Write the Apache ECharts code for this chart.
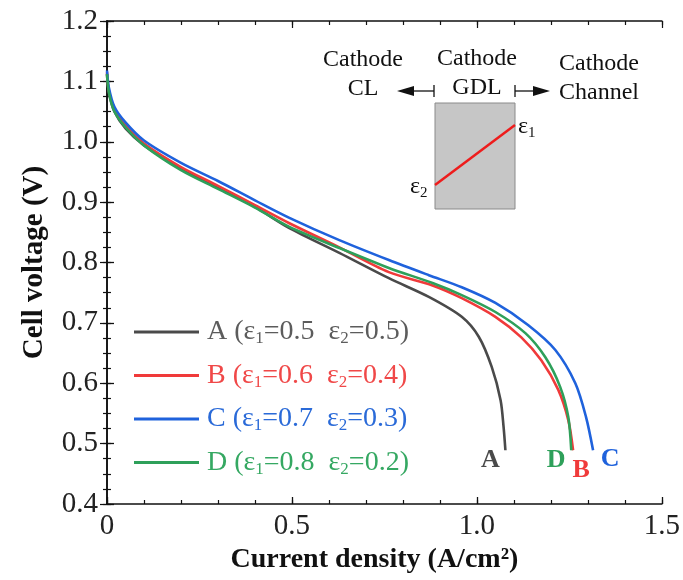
<!DOCTYPE html>
<html>
<head>
<meta charset="utf-8">
<script src="https://cdn.jsdelivr.net/npm/echarts@6/dist/echarts.min.js"></script>
<style>
  html, body { margin: 0; padding: 0; background: #fff; }
  #chart { width: 683px; height: 580px; }
</style>
</head>
<body>
<div id="chart"></div>
<script>
// current density (A/cm2) and cell voltage (V)
const jA = [0, 0.005, 0.02, 0.05, 0.1, 0.2, 0.3, 0.4, 0.493, 0.628, 0.762, 0.87, 0.959, 1.005, 1.04, 1.064, 1.072, 1.077]
const vA = [1.112, 1.082, 1.05, 1.022, 0.994, 0.956, 0.924, 0.892, 0.857, 0.816, 0.774, 0.743, 0.71, 0.677, 0.627, 0.572, 0.528, 0.489]

const jB = [0, 0.005, 0.02, 0.05, 0.1, 0.2, 0.3, 0.4, 0.493, 0.628, 0.762, 0.88, 0.959, 1.05, 1.12, 1.174, 1.22, 1.247, 1.26]
const vB = [1.115, 1.085, 1.053, 1.027, 0.997, 0.958, 0.927, 0.895, 0.865, 0.825, 0.784, 0.762, 0.741, 0.71, 0.676, 0.638, 0.589, 0.539, 0.489]

const jC = [0, 0.005, 0.02, 0.05, 0.1, 0.2, 0.3, 0.4, 0.493, 0.628, 0.762, 0.87, 0.959, 1.05, 1.139, 1.212, 1.266, 1.295, 1.314]
const vC = [1.118, 1.09, 1.058, 1.032, 1.002, 0.965, 0.935, 0.903, 0.874, 0.837, 0.804, 0.779, 0.759, 0.733, 0.696, 0.655, 0.6, 0.544, 0.489]

const jD = [0, 0.005, 0.02, 0.05, 0.1, 0.2, 0.3, 0.4, 0.493, 0.628, 0.762, 0.88, 0.959, 1.05, 1.131, 1.185, 1.225, 1.247, 1.255]
const vD = [1.112, 1.082, 1.05, 1.024, 0.994, 0.953, 0.922, 0.891, 0.859, 0.824, 0.791, 0.766, 0.746, 0.718, 0.683, 0.643, 0.594, 0.544, 0.489]

const names = ['A', 'B', 'C', 'D']
const eps1 = ['0.5', '0.6', '0.7', '0.8']
const eps2 = ['0.5', '0.4', '0.3', '0.2']
const colors = ['#4a4a4a', '#f03a3a', '#1f62dc', '#2ea05a']
const textColors = ['#5c5c5c', '#f04848', '#2a6ad8', '#35a862']

const FONT = '"Liberation Serif", "Times New Roman", serif'

const pair = (j, v) => j.map((x, i) => [x, v[i]])
const seriesData = [pair(jA, vA), pair(jB, vB), pair(jC, vC), pair(jD, vD)]

const myChart = echarts.init(document.getElementById('chart'))

const axisLine = { show: true, lineStyle: { color: '#111', width: 1.6 } }
const axisTick = { show: true, inside: true, length: 7, lineStyle: { color: '#111', width: 1.3 } }

// bare axes that only carry the tick marks (mirror sides and minor ticks)
const tickAxis = (position, min, max, interval, len) => ({
  type: 'value', position: position, min: min, max: max, interval: interval,
  axisLine: len === 7 ? axisLine : { show: false },
  axisTick: { show: true, inside: true, length: len, lineStyle: { color: '#111', width: 1.2 } },
  axisLabel: { show: false }, splitLine: { show: false }
})

const option = {
  backgroundColor: '#fff',
  animation: false,
  grid: { left: 107, top: 21, right: 19, bottom: 76 },
  legend: {
    orient: 'vertical',
    left: 134,
    top: 318,
    padding: 0,
    itemGap: 14,
    itemWidth: 65,
    itemHeight: 3,
    icon: 'rect',
    selectedMode: false,
    data: names.map((n, i) => ({
      name: n,
      textStyle: { color: textColors[i] }
    })),
    formatter: function (name) {
      const i = names.indexOf(name)
      return name + ' (ε{s|1}=' + eps1[i] + '  ε{s|2}=' + eps2[i] + ')'
    },
    textStyle: {
      fontFamily: FONT,
      fontSize: 28,
      padding: [0, 0, 0, 3],
      rich: {
        s: { fontFamily: FONT, fontSize: 17, padding: [14, 0, 0, 0] }
      }
    }
  },
  xAxis: [
    {
      type: 'value',
      min: 0,
      max: 1.5,
      interval: 0.5,
      axisLine: axisLine,
      axisTick: axisTick,
      splitLine: { show: false },
      name: 'Current density (A/cm²)',
      nameLocation: 'middle',
      nameGap: 37,
      nameTextStyle: { fontFamily: FONT, fontSize: 28, fontWeight: 'bold', color: '#111', padding: [0, 20, 0, 0] },
      axisLabel: {
        fontFamily: FONT, fontSize: 29, color: '#222', margin: 8,
        formatter: v => (v === 0 ? '0' : v.toFixed(1))
      }
    },
    tickAxis('top', 0, 1.5, 0.5, 7),
    tickAxis('bottom', 0, 1.5, 0.1, 4),
    tickAxis('top', 0, 1.5, 0.1, 4)
  ],
  yAxis: [
    {
      type: 'value',
      min: 0.4,
      max: 1.2,
      interval: 0.1,
      name: 'Cell voltage (V)',
      nameLocation: 'middle',
      nameGap: 58,
      nameTextStyle: { fontFamily: FONT, fontSize: 29, fontWeight: 'bold', color: '#111' },
      axisLine: axisLine,
      axisTick: axisTick,
      splitLine: { show: false },
      axisLabel: {
        fontFamily: FONT, fontSize: 29, color: '#222', margin: 9,
        formatter: v => v.toFixed(1)
      }
    },
    tickAxis('right', 0.4, 1.2, 0.1, 7),
    tickAxis('left', 0.4, 1.2, 0.025, 4),
    tickAxis('right', 0.4, 1.2, 0.025, 4)
  ],
  series: names.map((n, i) => ({
    name: n,
    type: 'line',
    xAxisIndex: 0,
    yAxisIndex: 0,
    data: seriesData[i],
    smooth: 0.3,
    showSymbol: false,
    color: colors[i],
    lineStyle: { width: 2.6, color: colors[i] },
    z: [2, 3, 4, 5][i]
  }))
}

myChart.setOption(option)

// curve end letters and the GDL inset
const endOffsets = [[-15, 10], [8, 20], [17, 9], [-15, 10]]
const endLabels = names.map((n, i) => {
  const d = seriesData[i][seriesData[i].length - 1]
  const p = myChart.convertToPixel({ xAxisIndex: 0, yAxisIndex: 0 }, d)
  return {
    type: 'text',
    x: p[0] + endOffsets[i][0],
    y: p[1] + endOffsets[i][1],
    style: {
      text: n, fill: colors[i], fontFamily: FONT, fontSize: 26, fontWeight: 'bold',
      align: 'center', verticalAlign: 'middle'
    },
    z: 10
  }
})

const serif = (text, x, y, align) => ({
  type: 'text', x: x, y: y,
  style: { text: text, fill: '#111', fontFamily: FONT, fontSize: 24, align: align || 'center', verticalAlign: 'middle' }
})

const eps = (sub, x, y) => ({
  type: 'text', x: x, y: y,
  style: { text: 'ε{s|' + sub + '}', fill: '#111', fontFamily: FONT, fontSize: 24, align: 'left', verticalAlign: 'middle',
    rich: { s: { fontFamily: FONT, fontSize: 15, padding: [12, 0, 0, 0] } } }
})

const inset = [
  { type: 'rect', shape: { x: 435, y: 103, width: 80, height: 106 }, style: { fill: '#c6c6c6', stroke: '#8a8a8a', lineWidth: 1 } },
  { type: 'line', shape: { x1: 435, y1: 185, x2: 515, y2: 125 }, style: { stroke: '#ee1c1c', lineWidth: 2.5 } },
  serif('Cathode', 363, 60), serif('CL', 363, 89),
  serif('Cathode', 477, 59), serif('GDL', 477, 88),
  serif('Cathode', 559, 64, 'left'), serif('Channel', 559, 93, 'left'),
  { type: 'line', shape: { x1: 434, y1: 91, x2: 410, y2: 91 }, style: { stroke: '#111', lineWidth: 1.3 } },
  { type: 'line', shape: { x1: 434, y1: 85, x2: 434, y2: 97 }, style: { stroke: '#111', lineWidth: 1.3 } },
  { type: 'polygon', shape: { points: [[397, 91], [414, 86], [414, 96]] }, style: { fill: '#111' } },
  { type: 'line', shape: { x1: 515, y1: 91, x2: 537, y2: 91 }, style: { stroke: '#111', lineWidth: 1.3 } },
  { type: 'line', shape: { x1: 515, y1: 85, x2: 515, y2: 97 }, style: { stroke: '#111', lineWidth: 1.3 } },
  { type: 'polygon', shape: { points: [[550, 91], [533, 86], [533, 96]] }, style: { fill: '#111' } },
  eps('1', 518, 127),
  eps('2', 410, 187)
]

myChart.setOption({ graphic: endLabels.concat(inset) })

window.addEventListener('resize', function () {
  myChart.resize()
})
</script>
</body>
</html>
